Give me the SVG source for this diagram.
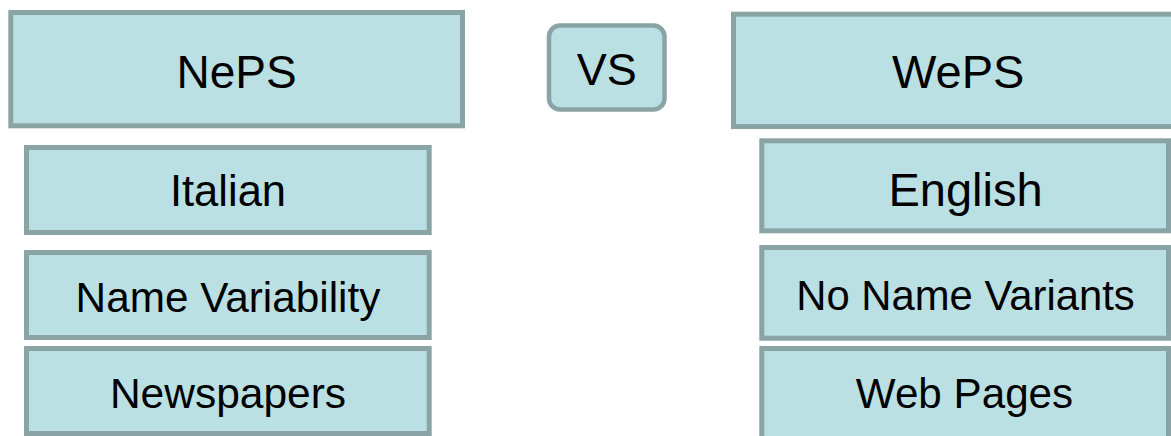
<svg xmlns="http://www.w3.org/2000/svg" width="1171" height="436" viewBox="0 0 1171 436">
<style>
.box{fill:#BAE0E3;stroke:#8AA4A6;stroke-width:5}
.vs{fill:#BAE0E3;stroke:#8AA4A6;stroke-width:4.5}
.t{font-family:"Liberation Sans",Arial,sans-serif;fill:#000;text-anchor:middle}
</style>
<rect width="1171" height="436" fill="#fff"/>
<g id="neps">
<rect class="box" x="10.8" y="12.5" width="451.7" height="113.3"/>
<text class="t" x="236.5" y="88.3" font-size="46">NePS</text>
</g>
<g id="vs">
<rect class="vs" x="549" y="25.6" width="115.5" height="83.8" rx="11" ry="11"/>
<text class="t" x="606.8" y="85" font-size="45">VS</text>
</g>
<g id="weps">
<rect class="box" x="733.5" y="14.2" width="460" height="112.4"/>
<text class="t" x="958.3" y="88.3" font-size="47">WePS</text>
</g>
<g id="italian">
<rect class="box" x="26.5" y="147.5" width="402.7" height="85"/>
<text class="t" x="228" y="206" font-size="43.5">Italian</text>
</g>
<g id="name-variability">
<rect class="box" x="26.5" y="252.5" width="402.7" height="85"/>
<text class="t" x="228" y="311.5" font-size="42.3">Name Variability</text>
</g>
<g id="newspapers">
<rect class="box" x="26.5" y="348.5" width="402.7" height="85"/>
<text class="t" x="228" y="407.7" font-size="42.5">Newspapers</text>
</g>
<g id="english">
<rect class="box" x="761.8" y="140.8" width="406.7" height="90"/>
<text class="t" x="965.5" y="205.5" font-size="47">English</text>
</g>
<g id="no-name-variants">
<rect class="box" x="761.8" y="247.5" width="406.7" height="90.7"/>
<text class="t" x="965.5" y="309.5" font-size="41.8">No Name Variants</text>
</g>
<g id="web-pages">
<rect class="box" x="761.8" y="348.5" width="406.7" height="95"/>
<text class="t" x="964.5" y="407.7" font-size="42.2">Web Pages</text>
</g>
<g id="connectors"></g>
</svg>
